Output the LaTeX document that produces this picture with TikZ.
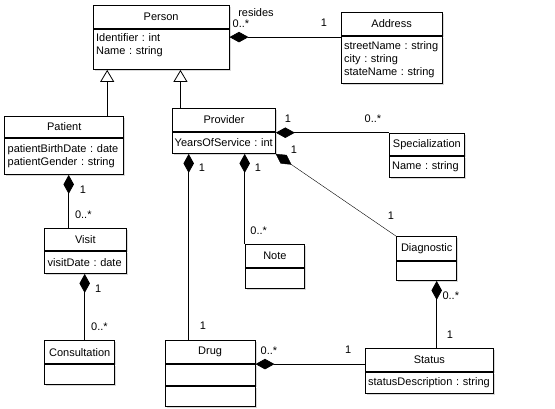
\documentclass[tikz,border=0pt]{standalone}
\usepackage{fontspec}
\setmainfont{Liberation Sans}
\usetikzlibrary{arrows.meta, shadows, positioning}

\begin{document}
\begin{tikzpicture}[x=1pt, y=-1pt,
    every node/.style={font=\fontsize{11}{13}\selectfont\frenchspacing},
    classname/.style={rectangle, draw=black, fill=white, line width=0.8pt,
        minimum height=23pt, inner sep=0pt, anchor=north west, text centered,
        drop shadow={opacity=0.3, shadow xshift=1.5pt, shadow yshift=-1.5pt}},
    attrs/.style={rectangle, draw=black, fill=white, line width=0.8pt,
        minimum height=21pt, inner xsep=3pt, inner ysep=2pt, anchor=north west, align=left,
        drop shadow={opacity=0.3, shadow xshift=1.5pt, shadow yshift=-1.5pt}},
    mult/.style={inner sep=0pt},
    composes/.style={{Diamond[length=19pt, width=10.5pt]}-, line width=0.8pt},
    inherits/.style={-{Triangle[open, length=12pt, width=14pt, fill=white]}, line width=0.8pt}
]
\useasboundingbox (0,0) rectangle (555,408);

% classes
\node (Person) [classname, minimum width=136pt] at (92.7,4.7) {Person};
\node (PersonA) [attrs, text width=130pt, minimum height=40.6pt] at (Person.south west) {Identifier : int\\Name : string\vspace{8pt}};

\node (Address) [classname, minimum width=101pt, minimum height=22.7pt] at (340.7,12.3) {Address};
\node (AddressA) [attrs, text width=95pt, minimum height=47pt] at (Address.south west) {streetName : string\\city : string\\stateName : string};

\node (Patient) [classname, minimum width=119pt, minimum height=20.4pt] at (4.3,116.3) {Patient};
\node (PatientA) [attrs, text width=113pt, minimum height=36.6pt] at (Patient.south west) {patientBirthDate : date\\patientGender : string};

\node (Provider) [classname, minimum width=102.7pt, minimum height=22.7pt] at (172.3,108.3) {Provider};
\node (ProviderA) [attrs, inner xsep=2pt, text width=98.7pt, minimum height=21.3pt] at (Provider.south west) {YearsOfService : int};

\node (Specialization) [classname, minimum width=75.6pt, minimum height=22.6pt] at (388.7,132.7) {Specialization};
\node (SpecializationA) [attrs, text width=69.6pt, minimum height=20.7pt] at (Specialization.south west) {Name : string};

\node (Visit) [classname, minimum width=81.4pt, minimum height=21.7pt] at (44.3,228.3) {Visit};
\node (VisitA) [attrs, text width=75.4pt, minimum height=22.3pt] at (Visit.south west) {visitDate : date};

\node (Note) [classname, minimum width=59.6pt, minimum height=22.4pt] at (244.7,244.3) {Note};
\node (NoteA) [attrs, minimum width=59.6pt, minimum height=20.6pt] at (Note.south west) {};

\node (Diagnostic) [classname, minimum width=60pt, minimum height=23.4pt] at (396.3,236.3) {Diagnostic};
\node (DiagnosticA) [attrs, minimum width=60pt, minimum height=19.6pt] at (Diagnostic.south west) {};

\node (Consultation) [classname, minimum width=70pt] at (44.3,340.3) {Consultation};
\node (ConsultationA) [attrs, minimum width=70pt, minimum height=20pt] at (Consultation.south west) {};

\node (Drug) [classname, minimum width=90pt] at (164.7,340.3) {Drug};
\node (DrugA) [attrs, minimum width=90pt, minimum height=20.7pt] at (Drug.south west) {};
\node (DrugB) [attrs, minimum width=90pt, minimum height=20pt] at (DrugA.south west) {};

\node (Status) [classname, minimum width=128.6pt, minimum height=22.7pt] at (364.7,348.3) {Status};
\node (StatusA) [attrs, text width=122.6pt, minimum height=21.3pt] at (Status.south west) {statusDescription : string};

% generalisation
\coordinate (patientup) at ([xshift=43pt]Patient.north);
\draw[inherits] (patientup) -- (patientup |- PersonA.south);
\coordinate (providerup) at ([xshift=-43.6pt]Provider.north);
\draw[inherits] (providerup) -- (providerup |- PersonA.south);

% compositions
\coordinate (addressin) at ([yshift=-1.3pt]AddressA.north west);
\draw[composes] (addressin -| PersonA.east) -- (addressin);
\draw[composes] (Specialization.north west -| ProviderA.east) -- (Specialization.north west);
\draw[composes, line width=0.4pt] (ProviderA.south east) -- (Diagnostic.north west);
\coordinate (drugup) at ([xshift=-21.4pt]Drug.north);
\draw[composes] (drugup |- ProviderA.south) -- (drugup);
\draw[composes] (Note.north west |- ProviderA.south) -- (Note.north west);
\coordinate (visitup) at ([xshift=-16.7pt]Visit.north);
\draw[composes] (visitup |- PatientA.south) -- (visitup);
\coordinate (consultup) at ([xshift=5pt]Consultation.north);
\draw[composes] (consultup |- VisitA.south) -- (consultup);
\draw[composes] (Drug.south east) -- (Drug.south east -| Status.west);
\coordinate (statusup) at ([xshift=7.3pt]Status.north);
\draw[composes] (statusup |- DiagnosticA.south) -- (statusup);

% multiplicities
\node (residesL) [mult] at (256,12.5) {resides};
\node (residesM) [mult] at (241,23.5) {0..*};
\node (addressM) [mult] at (324,22.5) {1};
\node (specOne) [mult] at (288,118.5) {1};
\node (specMany) [mult] at (373,118.5) {0..*};
\node (diagOne) [mult] at (294,149.5) {1};
\node (diagTwo) [mult] at (391,216) {1};
\node (drugOne) [mult] at (202,168) {1};
\node (drugTwo) [mult] at (203,326) {1};
\node (noteOne) [mult] at (258,168) {1};
\node (noteMany) [mult] at (258.7,231) {0..*};
\node (visitOne) [mult] at (83,190) {1};
\node (visitMany) [mult] at (83.3,214.5) {0..*};
\node (consultOne) [mult] at (98.3,288.3) {1};
\node (consultMany) [mult] at (99.5,326.5) {0..*};
\node (statusMany) [mult] at (269,351) {0..*};
\node (statusOne) [mult] at (348.3,350) {1};
\node (diagMany) [mult] at (450.8,296) {0..*};
\node (diagStatus) [mult] at (450,334.5) {1};
\end{tikzpicture}
\end{document}
